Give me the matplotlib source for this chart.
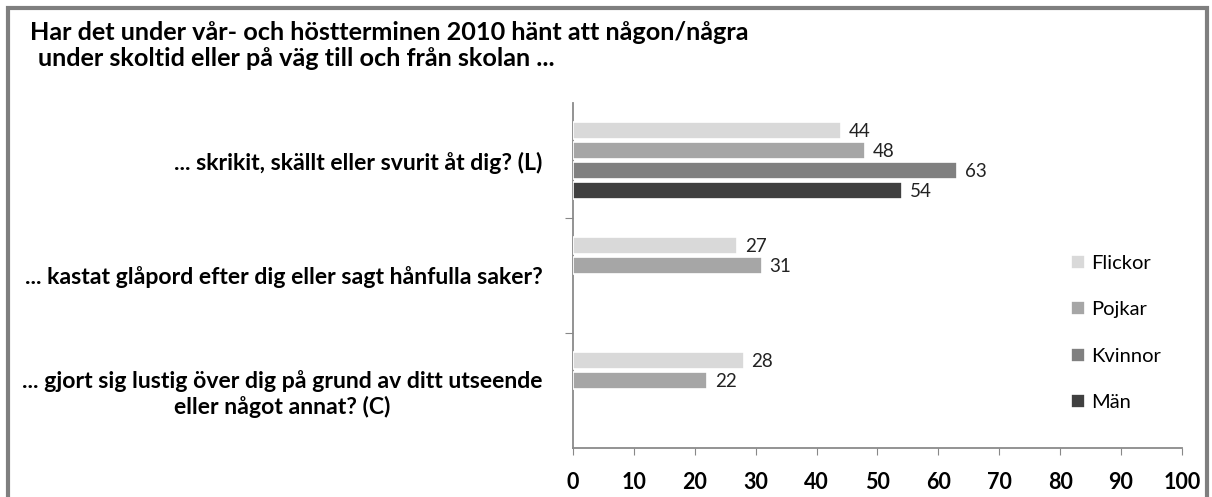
import numpy as np
import matplotlib
matplotlib.use("Agg")
import matplotlib.pyplot as plt
from matplotlib.patches import Rectangle

plt.rcParams['font.family'] = ['Lato', 'DejaVu Sans']

categories = ["... skrikit, skällt eller svurit åt dig? (L)",
              "... kastat glåpord efter dig eller sagt hånfulla saker?",
              "... gjort sig lustig över dig på grund av ditt utseende\neller något annat? (C)"]
series = ["Flickor", "Pojkar", "Kvinnor", "Män"]
flickor = [44, 27, 28]
pojkar = [48, 31, 22]
kvinnor = [63, np.nan, np.nan]
man = [54, np.nan, np.nan]
values = [flickor, pojkar, kvinnor, man]
colors = ["#d9d9d9", "#a6a6a6", "#808080", "#404040"]
xticks = list(range(0, 101, 10))

fig = plt.figure(figsize=(12.12, 4.97), dpi=100)
ax = fig.add_axes([0.4728, 0.0986, 0.5024, 0.6942])

step = 0.174
h = 0.155
for j, (name, vals, col) in enumerate(zip(series, values, colors)):
    ys = np.arange(len(categories)) + (j - 1.5) * step
    ax.barh(ys, vals, height=h, color=col, edgecolor="white", linewidth=1.2,
            label=name, zorder=3)
    for y, v in zip(ys, vals):
        if not np.isnan(v):
            ax.text(v + 1.3, y + 0.01, str(int(v)), va="center", ha="left",
                    fontsize=13.5, color="#222222")

ax.set_xlim(0, 100)
ax.set_ylim(2.5, -0.5)
ax.set_xticks(xticks)
ax.set_xticklabels([str(t) for t in xticks], fontsize=15.5, fontweight="bold")
ax.set_yticks([0.5, 1.5], minor=False)
ax.set_yticklabels([])
ax.set_yticks(np.arange(len(categories)), minor=True)
ax.set_yticklabels(categories, minor=True, fontsize=16.6, fontweight="bold",
                   ha="right", multialignment="center")
ax.tick_params(axis="y", which="minor", length=0, pad=22)
ax.tick_params(axis="y", which="major", length=6, color="#888888")
ax.tick_params(axis="x", length=5, color="#888888", pad=12)
for s in ["top", "right"]:
    ax.spines[s].set_visible(False)
for s in ["left", "bottom"]:
    ax.spines[s].set_color("#8a8a8a")
    ax.spines[s].set_linewidth(1.3)

leg = fig.legend(loc="center left", bbox_to_anchor=(0.875, 0.33), frameon=False,
                 fontsize=14.5, handlelength=0.7, handleheight=0.7,
                 handletextpad=0.3, labelspacing=1.45, borderpad=0)

fig.text(0.025, 0.934, "Har det under vår- och höstterminen 2010 hänt att någon/några",
         fontsize=18.2, fontweight="bold", ha="left", va="center")
fig.text(0.031, 0.883, "under skoltid eller på väg till och från skolan ...",
         fontsize=18.2, fontweight="bold", ha="left", va="center")

fig.patches.append(Rectangle((0.007, -0.01), 0.989, 0.994, transform=fig.transFigure,
                             fill=False, edgecolor="#7f7f7f", linewidth=3))

fig.savefig("out.png", dpi=100)
